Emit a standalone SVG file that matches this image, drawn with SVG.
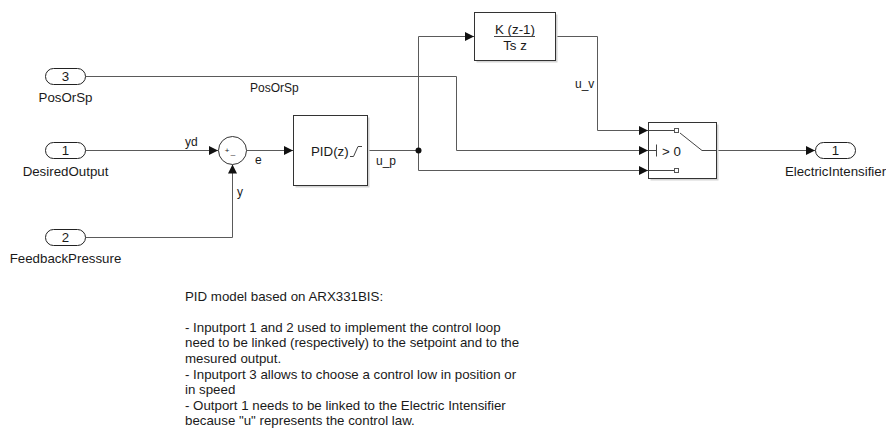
<svg xmlns="http://www.w3.org/2000/svg" width="886" height="430" viewBox="0 0 886 430">
<style>
  text { font-family: "Liberation Sans", Arial, sans-serif; fill: #1a1a1a; }
  .lbl { font-size: 13.3px; }
  .sig { font-size: 12px; }
  .mid { text-anchor: middle; }
  .wire { fill: none; stroke: #5a5a5a; stroke-width: 1; }
  .blk { fill: #ffffff; stroke: #333333; stroke-width: 1; }
  .shadow { fill: #d4d4d4; stroke: none; }
  .port { fill: #ffffff; stroke: #222222; stroke-width: 1; }
  .glyph { fill: none; stroke: #444444; stroke-width: 1; }
</style>
<defs>
  <marker id="arr" markerUnits="userSpaceOnUse" markerWidth="10" markerHeight="10" refX="9" refY="4.5" orient="auto">
    <path d="M0,0 L9,4.5 L0,9 z" fill="#111111"/>
  </marker>
</defs>
<rect width="886" height="430" fill="#ffffff"/>

<g id="connectors">
  <path class="wire" d="M85.5,76.5 H456.5 V150.5 H648" marker-end="url(#arr)"/>
  <path class="wire" d="M85.5,150.5 H218" marker-end="url(#arr)"/>
  <path class="wire" d="M85.5,237.5 H232.5 V164.5" marker-end="url(#arr)"/>
  <path class="wire" d="M246.5,150.5 H293" marker-end="url(#arr)"/>
  <path class="wire" d="M367.5,150.5 H418.5"/>
  <path class="wire" d="M418.5,150.5 V36.5 H474" marker-end="url(#arr)"/>
  <path class="wire" d="M418.5,150.5 V170.5 H648" marker-end="url(#arr)"/>
  <path class="wire" d="M555.5,36.5 H597.5 V130.5 H648" marker-end="url(#arr)"/>
  <path class="wire" d="M716.5,150.5 H815" marker-end="url(#arr)"/>
  <circle cx="418.5" cy="150.5" r="3" fill="#111111"/>
  <text class="sig" x="250" y="92">PosOrSp</text>
  <text class="sig" x="185" y="146">yd</text>
  <text class="sig" x="255" y="164">e</text>
  <text class="sig" x="237" y="196">y</text>
  <text class="sig" x="376" y="165">u_p</text>
  <text class="sig" x="575" y="88">u_v</text>
</g>

<g id="in3">
  <rect class="port" x="45.5" y="68.5" width="40" height="16" rx="8" ry="8"/>
  <text class="lbl mid" x="65.5" y="81">3</text>
  <text class="lbl mid" x="65.5" y="101.5">PosOrSp</text>
</g>
<g id="in1">
  <rect class="port" x="45.5" y="142.5" width="40" height="16" rx="8" ry="8"/>
  <text class="lbl mid" x="65.5" y="155">1</text>
  <text class="lbl mid" x="65.5" y="175.5">DesiredOutput</text>
</g>
<g id="in2">
  <rect class="port" x="45.5" y="229.5" width="40" height="16" rx="8" ry="8"/>
  <text class="lbl mid" x="65.5" y="242">2</text>
  <text class="lbl mid" x="65.5" y="262.5">FeedbackPressure</text>
</g>

<g id="sum">
  <circle cx="232.5" cy="150.5" r="14" class="blk"/>
  <text class="mid" x="227" y="153" style="font-size:8px">+</text>
  <text class="mid" x="233" y="154" style="font-size:8px">_</text>
</g>

<g id="pid">
  <rect class="shadow" x="295.5" y="117.5" width="74" height="70"/>
  <rect class="blk" x="293.5" y="115.5" width="74" height="70"/>
  <text class="lbl" x="311" y="156">PID(z)</text>
  <polyline class="glyph" points="350,156.5 353.5,156.5 358,146.5 362,146.5"/>
</g>

<g id="derivative">
  <rect class="shadow" x="476.5" y="14.5" width="81" height="48"/>
  <rect class="blk" x="474.5" y="12.5" width="81" height="48"/>
  <text class="lbl mid" x="515" y="34">K (z-1)</text>
  <line class="glyph" x1="494" y1="36.5" x2="535" y2="36.5"/>
  <text class="lbl mid" x="515" y="50">Ts z</text>
</g>

<g id="switch">
  <rect class="shadow" x="650.5" y="124.5" width="68" height="56"/>
  <rect class="blk" x="648.5" y="122.5" width="68" height="56"/>
  <path class="glyph" d="M648.5,130.5 H674.5"/>
  <rect x="674.5" y="128.5" width="4" height="4" fill="#ffffff" stroke="#555555"/>
  <path class="glyph" d="M680,133 L702,150.5 H716.5"/>
  <path class="glyph" d="M648.5,150.5 H656.5 M656.5,144.5 V156.5"/>
  <text class="lbl" x="662" y="155.5">&gt; 0</text>
  <path class="glyph" d="M648.5,170.5 H674.5"/>
  <rect x="674.5" y="168.5" width="4" height="4" fill="#ffffff" stroke="#555555"/>
</g>

<g id="out1">
  <rect class="port" x="815.5" y="142.5" width="40" height="16" rx="8" ry="8"/>
  <text class="lbl mid" x="835.5" y="155">1</text>
  <text class="lbl mid" x="835.5" y="176">ElectricIntensifier</text>
</g>

<g id="note">
  <text class="lbl" x="185" y="300.5">PID model based on ARX331BIS:</text>
  <text class="lbl" x="185" y="331.7">- Inputport 1 and 2 used to implement the control loop</text>
  <text class="lbl" x="185" y="347.3">need to be linked (respectively) to the setpoint and to the</text>
  <text class="lbl" x="185" y="362.9">mesured output.</text>
  <text class="lbl" x="185" y="378.5">- Inputport 3 allows to choose a control low in position or</text>
  <text class="lbl" x="185" y="394.1">in speed</text>
  <text class="lbl" x="185" y="409.7">- Outport 1 needs to be linked to the Electric Intensifier</text>
  <text class="lbl" x="185" y="425.3">because "u" represents the control law.</text>
</g>
</svg>
